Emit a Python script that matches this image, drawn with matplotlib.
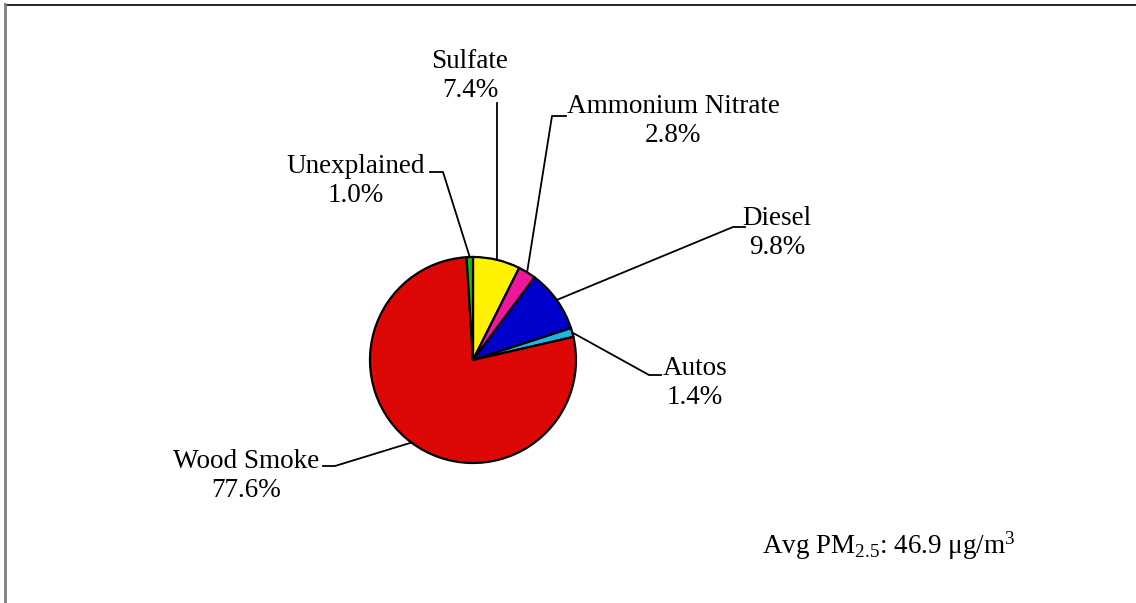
import numpy as np
import matplotlib
matplotlib.use("Agg")
import matplotlib.pyplot as plt

plt.rcParams['font.family'] = ['Liberation Serif', 'DejaVu Serif']
plt.rcParams['mathtext.fontset'] = 'custom'
plt.rcParams['mathtext.rm'] = 'Liberation Serif'
plt.rcParams['mathtext.default'] = 'regular'

# source apportionment, clockwise from 12 o'clock
sources = ['Sulfate', 'Ammonium Nitrate', 'Diesel', 'Autos', 'Wood Smoke', 'Unexplained']
shares = [7.4, 2.8, 9.8, 1.4, 77.6, 1.0]
colors = ['#FFF200', '#F0189A', '#0000CC', '#1EB4E6', '#DD0806', '#1FB714']
avg_pm = 46.9

W, H = 1136, 603
fig = plt.figure(figsize=(W / 100, H / 100), dpi=100)
ax = fig.add_axes([0, 0, 1, 1])

cx, cy, r = 473, 360, 103

# axes run in pixels with y pointing down, so the pie starts at -90
# and turns counter-clockwise in data space to read clockwise on screen
ax.pie(shares, colors=colors, startangle=-90, counterclock=True,
       center=(cx, cy), radius=r, frame=True,
       wedgeprops=dict(edgecolor='black', linewidth=1.6))
ax.set_xlim(0, W)
ax.set_ylim(H, 0)
ax.set_aspect('equal')
ax.axis('off')

fs = 19.5

# label text position (centre of the two lines), elbow and end of the leader
label_pos = {
    'Sulfate': (470, 76, None),
    'Ammonium Nitrate': (673, 121, (552, 116, 566)),
    'Diesel': (777, 233, (733, 227, 745)),
    'Autos': (695, 383, (649, 375, 661)),
    'Wood Smoke': (246, 476, (335, 466, 323)),
    'Unexplained': (356, 181, (443, 172, 430)),
}

cum = np.cumsum([0] + shares)
for i, name in enumerate(sources):
    mid = np.deg2rad((cum[i] + cum[i + 1]) / 2 / 100 * 360)
    px = cx + r * np.sin(mid)
    py = cy - r * np.cos(mid)
    tx, ty, elbow = label_pos[name]
    if elbow is None:
        ax.plot([px, px], [py, ty + 27], color='black', lw=1.3)
    else:
        ex, ey, hx = elbow
        ax.plot([px, ex, hx], [py, ey, ey], color='black', lw=1.3)
    ax.text(tx, ty, '%s\n%.1f%%' % (name, shares[i]), ha='center', va='center',
            fontsize=fs, linespacing=1.17)

ax.text(762, 546, r'Avg PM$_{2.5}$: %.1f μg/m$^3$' % avg_pm, ha='left', va='center',
        fontsize=fs)

# chart border (top and left edges)
ax.plot([5, W], [4.5, 4.5], color='black', lw=1.2, clip_on=False)
ax.plot([5, 5], [4, H], color='#808080', lw=2, clip_on=False)

fig.savefig('out.png', dpi=100)
